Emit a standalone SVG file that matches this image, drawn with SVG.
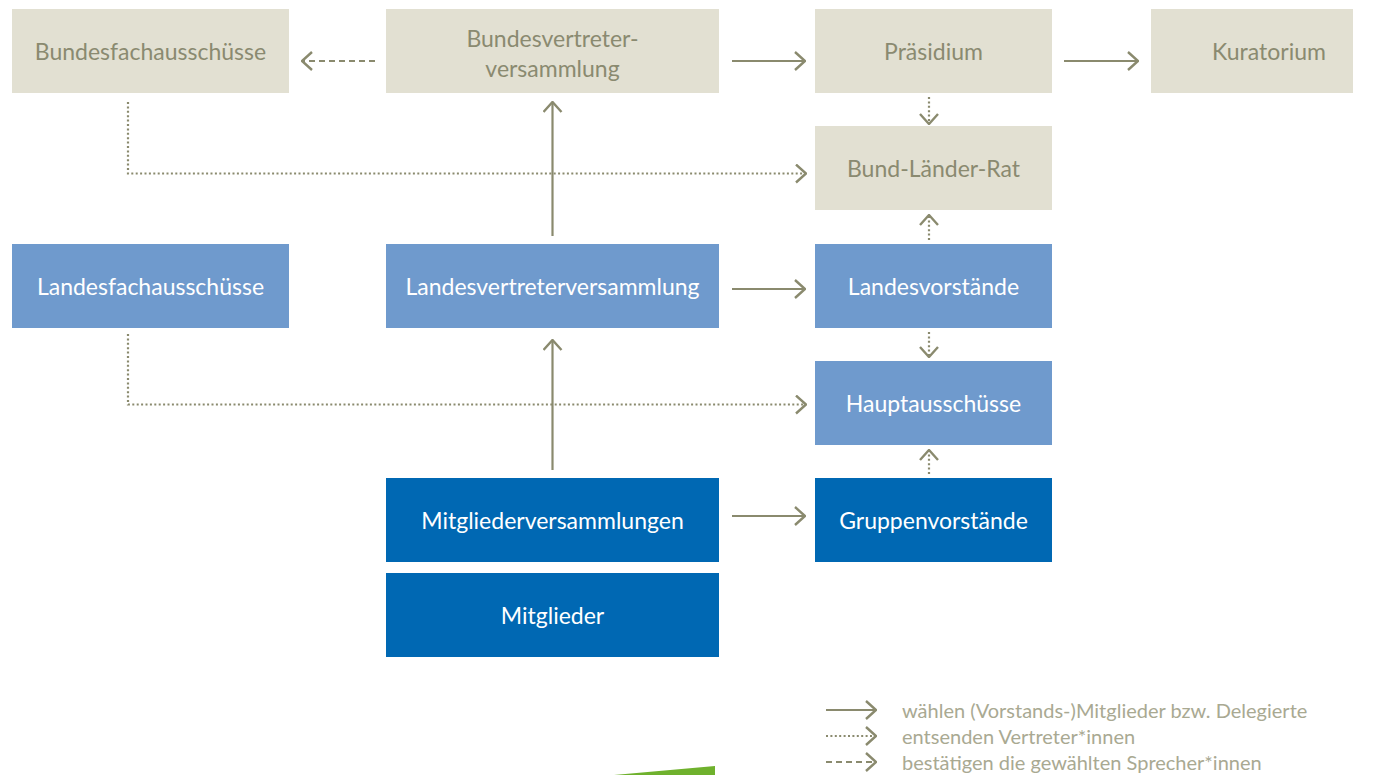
<svg xmlns="http://www.w3.org/2000/svg" width="1382" height="775" viewBox="0 0 1382 775">
<style>
.bund{fill:#e2e0d2}
.land{fill:#6f9acd}
.grp{fill:#0068b3}
text{font-family:Lato,"Liberation Sans",sans-serif;font-size:23px;text-anchor:middle;dominant-baseline:central}
.tb{fill:#8a8a70}
.tw{fill:#ffffff}
.c{fill:none;stroke:#8a8a6e;stroke-width:2.2}
.dot{stroke-dasharray:2 2.4}
.dash{stroke-dasharray:6 4}
.leg{fill:#a9a992;font-size:20px;text-anchor:start}
</style>
<defs>
<marker id="ah" viewBox="0 0 12 20" refX="11" refY="10" markerWidth="12" markerHeight="20" markerUnits="userSpaceOnUse" orient="auto">
<path d="M1,1 L11,10 L1,19" fill="none" stroke="#8a8a6e" stroke-width="2.4"/>
</marker>
</defs>
<g id="bundesfachausschuesse"><rect class="bund" x="12" y="9" width="277" height="84"/><text class="tb" x="150.5" y="51">Bundesfachausschüsse</text></g>
<g id="bundesvertreterversammlung"><rect class="bund" x="386" y="9" width="333" height="84"/><text class="tb" x="552.5" y="38">Bundesvertreter-</text><text class="tb" x="552.5" y="67.5">versammlung</text></g>
<g id="praesidium"><rect class="bund" x="815" y="9" width="237" height="84"/><text class="tb" x="933.5" y="51">Präsidium</text></g>
<g id="kuratorium"><rect class="bund" x="1151" y="9" width="202" height="84"/><text class="tb" x="1269" y="51">Kuratorium</text></g>
<g id="bund-laender-rat"><rect class="bund" x="815" y="126" width="237" height="84"/><text class="tb" x="933.5" y="168">Bund-Länder-Rat</text></g>
<g id="landesfachausschuesse"><rect class="land" x="12" y="244" width="277" height="84"/><text class="tw" x="150.5" y="286">Landesfachausschüsse</text></g>
<g id="landesvertreterversammlung"><rect class="land" x="386" y="244" width="333" height="84"/><text class="tw" x="552.5" y="286">Landesvertreterversammlung</text></g>
<g id="landesvorstaende"><rect class="land" x="815" y="244" width="237" height="84"/><text class="tw" x="933.5" y="286">Landesvorstände</text></g>
<g id="hauptausschuesse"><rect class="land" x="815" y="361" width="237" height="84"/><text class="tw" x="933.5" y="403">Hauptausschüsse</text></g>
<g id="mitgliederversammlungen"><rect class="grp" x="386" y="478" width="333" height="84"/><text class="tw" x="552.5" y="520">Mitgliederversammlungen</text></g>
<g id="gruppenvorstaende"><rect class="grp" x="815" y="478" width="237" height="84"/><text class="tw" x="933.5" y="520">Gruppenvorstände</text></g>
<g id="mitglieder"><rect class="grp" x="386" y="573" width="333" height="84"/><text class="tw" x="552.5" y="615">Mitglieder</text></g>
<g id="connectors">
<path class="c dash" d="M375,61 H302" marker-end="url(#ah)"/>
<path class="c" d="M732,61 H805" marker-end="url(#ah)"/>
<path class="c" d="M1064,61 H1138" marker-end="url(#ah)"/>
<path class="c dot" d="M929,97 V124" marker-end="url(#ah)"/>
<path class="c dot" d="M128,102 V173.5 H806" marker-end="url(#ah)"/>
<path class="c" d="M552.5,236 V102" marker-end="url(#ah)"/>
<path class="c dot" d="M929,240 V215" marker-end="url(#ah)"/>
<path class="c" d="M732,289 H805" marker-end="url(#ah)"/>
<path class="c dot" d="M929,332 V357" marker-end="url(#ah)"/>
<path class="c dot" d="M128,334 V404.5 H806" marker-end="url(#ah)"/>
<path class="c" d="M552.5,470 V340" marker-end="url(#ah)"/>
<path class="c dot" d="M929,474 V450" marker-end="url(#ah)"/>
<path class="c" d="M732,516 H805" marker-end="url(#ah)"/>
</g>
<g id="legend">
<path class="c" d="M826,710 H876" marker-end="url(#ah)"/>
<path class="c dot" d="M826,736 H876" marker-end="url(#ah)"/>
<path class="c dash" d="M826,762 H876" marker-end="url(#ah)"/>
<text class="leg" x="902" y="710">wählen (Vorstands-)Mitglieder bzw. Delegierte</text>
<text class="leg" x="902" y="736">entsenden Vertreter*innen</text>
<text class="leg" x="902" y="762">bestätigen die gewählten Sprecher*innen</text>
</g>
<polygon points="614,775 715,766 715,775" fill="#6fb12d"/>
</svg>
